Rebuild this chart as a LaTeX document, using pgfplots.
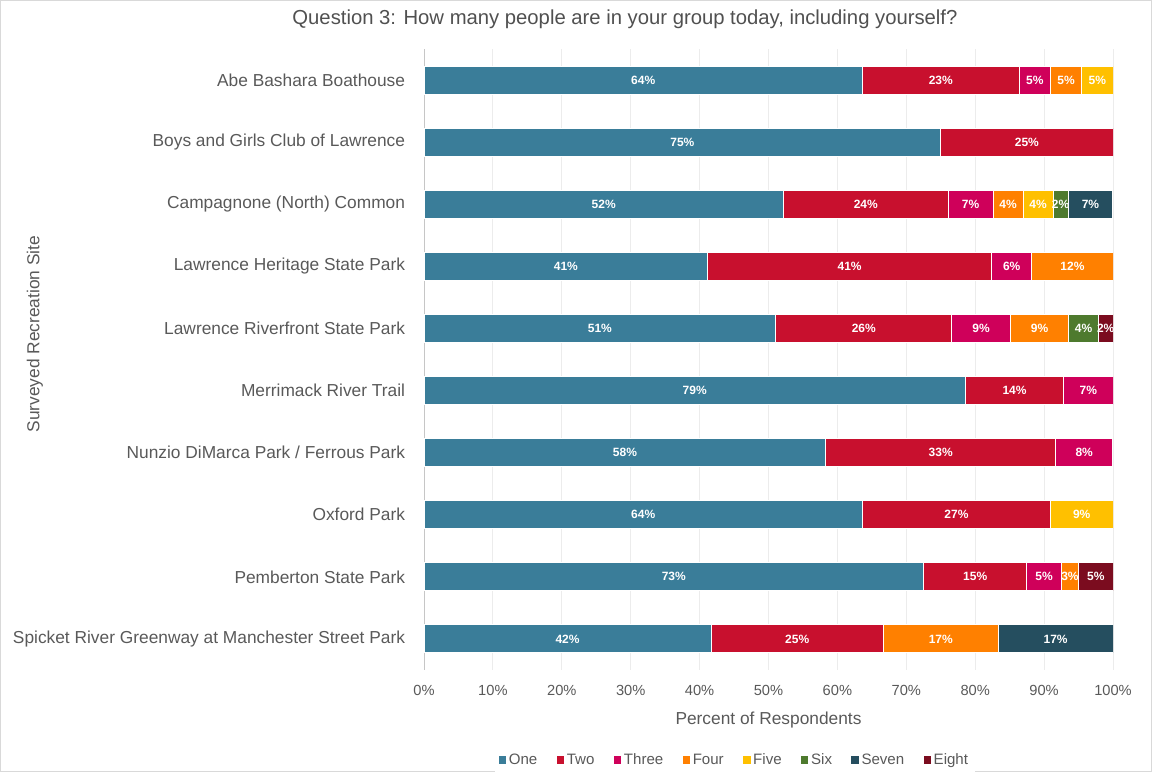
\documentclass[border=0pt]{standalone}
\usepackage{fontspec}
\setmainfont{Liberation Sans}
\usepackage{pgfplots}
\usepackage{pgfplotstable}
\pgfplotsset{compat=1.18}

\definecolor{cOne}{HTML}{3A7D99}
\definecolor{cTwo}{HTML}{C8102E}
\definecolor{cThree}{HTML}{CF005A}
\definecolor{cFour}{HTML}{FF8000}
\definecolor{cFive}{HTML}{FFC000}
\definecolor{cSix}{HTML}{4E7A2E}
\definecolor{cSeven}{HTML}{254E5F}
\definecolor{cEight}{HTML}{7B0C1F}
\definecolor{txt}{HTML}{595959}

% share of respondents (%) per site and group size
\pgfplotstableread{
idx one   two   three four  five six  seven eight
0   63.64 22.73 4.55  4.54  4.54 0    0     0
1   75    25    0     0     0    0    0     0
2   52.17 23.91 6.52  4.35  4.35 2.17 6.52  0
3   41.18 41.18 5.88  11.76 0    0    0     0
4   51.06 25.53 8.51  8.51  0    4.26 0     2.13
5   78.57 14.29 7.14  0     0    0    0     0
6   58.33 33.33 8.33  0     0    0    0     0
7   63.64 27.27 0     0     9.09 0    0     0
8   72.5  15    5     2.5   0    0    0     5
9   41.67 25    0     16.67 0    0    16.66 0
}\data

\newcommand{\seg}[2]{%
  \addplot[fill=#2, draw=white, line width=0.75pt] table[x=#1, y=idx] {\data};}

\begin{document}
\begin{tikzpicture}
\useasboundingbox (0,0) rectangle (864pt,579pt);
\draw[gray!30, line width=0.75pt] (0.4pt,0.4pt) rectangle (863.6pt,578.6pt);
\begin{axis}[
  at={(318pt,76.5pt)}, anchor=south west,
  scale only axis, width=516.75pt, height=465.75pt,
  xbar stacked, bar width=21pt,
  xmin=0, xmax=100, ymin=-0.5, ymax=9.5, y dir=reverse,
  xtick={0,10,...,100},
  xticklabel={\pgfmathprintnumber{\tick}\%},
  /pgf/number format/assume math mode=true,
  ytick={0,...,9},
  yticklabels={Abe Bashara Boathouse, Boys and Girls Club of Lawrence,
    Campagnone (North) Common, Lawrence Heritage State Park,
    Lawrence Riverfront State Park, Merrimack River Trail,
    Nunzio DiMarca Park / Ferrous Park, Oxford Park, Pemberton State Park,
    Spicket River Greenway at Manchester Street Park},
  major tick length=0pt,
  axis lines*=left,
  x axis line style={draw=none},
  y axis line style={draw=gray!45, line width=0.75pt},
  xmajorgrids, major grid style={draw=gray!15, line width=0.75pt},
  yticklabel style={font=\fontsize{13}{15}\selectfont, text=txt, anchor=east, inner sep=0pt, xshift=-14pt},
  xticklabel style={font=\fontsize{11}{13}\selectfont, text=txt, anchor=center, inner sep=0pt, yshift=-15pt},
  xlabel={Percent of Respondents},
  xlabel style={font=\fontsize{13}{15}\selectfont, text=txt, at={(axis description cs:0.5,-0.0805)}, anchor=center},
  ylabel={Surveyed Recreation Site},
  ylabel style={font=\fontsize{13}{15}\selectfont, text=txt, at={(axis description cs:-0.5646,0.541)}, anchor=center},
  title={Question 3: How many people are in your group today, including yourself?},
  title style={font=\fontsize{15.2}{17}\selectfont, text=txt!90!black, at={(axis description cs:0.2917,1.0354)}, anchor=center},
  point meta=rawx,
  nodes near coords={\pgfmathfloatifflags{\pgfplotspointmeta}{0}{}{\pgfmathprintnumber[fixed,precision=0]{\pgfplotspointmeta}\%}},
  every node near coord/.append style={anchor=center, text=white, font=\bfseries\fontsize{9}{10}\selectfont},
  legend columns=-1,
  legend style={draw=none, at={(axis description cs:0.451,-0.1449)}, anchor=center,
    font=\fontsize{11.3}{13}\selectfont, text=txt,
    /tikz/every even column/.append style={column sep=12.5pt}},
  legend image code/.code={\fill[#1,draw=none] (0pt,-2.8pt) rectangle (5.6pt,2.8pt);},
]
\seg{one}{cOne}
\seg{two}{cTwo}
\seg{three}{cThree}
\seg{four}{cFour}
\seg{five}{cFive}
\seg{six}{cSix}
\seg{seven}{cSeven}
\seg{eight}{cEight}
\legend{One,Two,Three,Four,Five,Six,Seven,Eight}
\end{axis}
\end{tikzpicture}
\end{document}
